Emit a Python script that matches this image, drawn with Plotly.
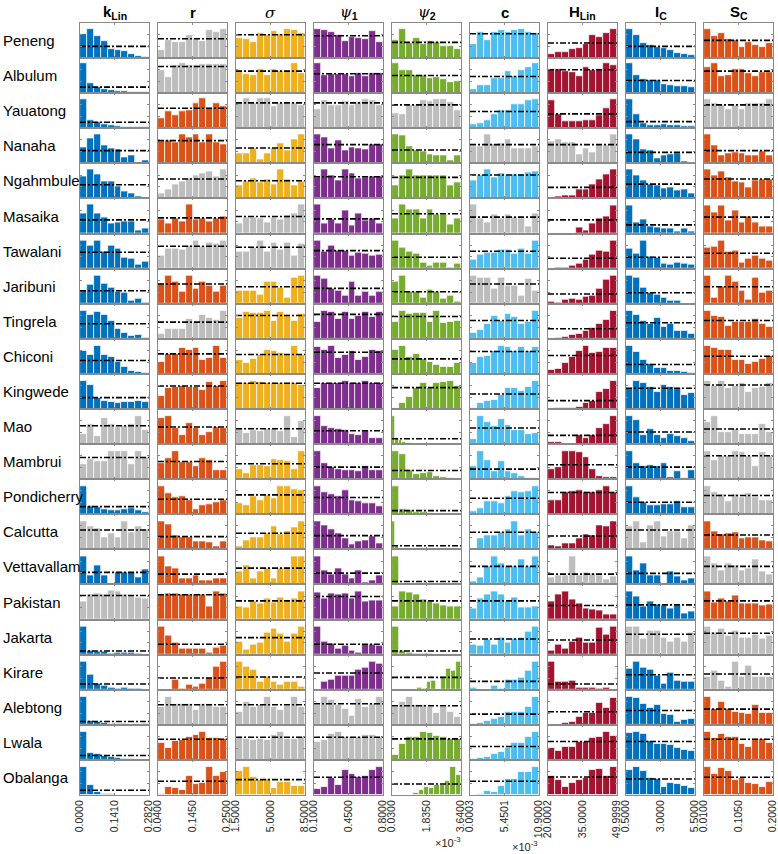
import numpy as np
import plotly.graph_objects as go

# sites (rows) and parameters (columns)
sites = ["Peneng", "Albulum", "Yauatong", "Nanaha", "Ngahmbule", "Masaika", "Tawalani",
         "Jaribuni", "Tingrela", "Chiconi", "Kingwede", "Mao", "Mambrui", "Pondicherry",
         "Calcutta", "Vettavallam", "Pakistan", "Jakarta", "Kirare", "Alebtong", "Lwala",
         "Obalanga"]

headers = ["<b>k<sub>Lin</sub></b>", "<b>r</b>",
           "<span style='font-family:DejaVu Serif'><i>σ</i></span>",
           "<span style='font-family:DejaVu Serif'><i>ψ</i></span><sub><b>1</b></sub>",
           "<span style='font-family:DejaVu Serif'><i>ψ</i></span><sub><b>2</b></sub>",
           "<b>c</b>", "<b>H<sub>Lin</sub></b>", "<b>I<sub>C</sub></b>", "<b>S<sub>C</sub></b>"]

tick_labels = [["0.0000", "0.1410", "0.2820"],
               ["0.0400", "0.1450", "0.2500"],
               ["1.5000", "5.0000", "8.5000"],
               ["0.1000", "0.4500", "0.8000"],
               ["0.0300", "1.8350", "3.6400"],
               ["0.0003", "5.4501", "10.9000"],
               ["20.0002", "35.0000", "49.9999"],
               ["0.5000", "3.0000", "5.5000"],
               ["0.0100", "0.1050", "0.2000"]]

# bar heights (relative, panel top = 105)
k_lin = [[72, 87, 65, 51, 28, 25, 22, 13, 5, 3], [90, 31, 18, 13, 10, 7, 5, 4, 3, 2],
         [88, 25, 17, 12, 8, 6, 4, 3, 2, 2], [48, 75, 88, 53, 45, 41, 18, 23, 3, 9],
         [65, 88, 73, 50, 50, 35, 20, 15, 6, 3], [59, 86, 59, 49, 29, 32, 37, 37, 9, 14],
         [84, 69, 84, 52, 69, 59, 34, 29, 12, 22], [39, 57, 84, 59, 49, 37, 34, 9, 14, 4],
         [85, 73, 80, 73, 55, 30, 17, 10, 12, 3], [68, 58, 85, 57, 50, 35, 22, 10, 5, 2],
         [85, 72, 32, 25, 20, 17, 20, 20, 25, 20], [31, 60, 25, 78, 61, 51, 53, 61, 85, 43],
         [45, 60, 53, 53, 85, 85, 85, 45, 85, 66], [85, 25, 21, 15, 11, 13, 15, 18, 11, 5],
         [83, 70, 63, 36, 48, 36, 83, 50, 70, 60], [84, 27, 56, 27, 0, 37, 37, 37, 21, 44],
         [54, 74, 79, 74, 86, 84, 74, 71, 66, 64], [84, 12, 9, 8, 2, 6, 6, 5, 3, 1],
         [85, 45, 17, 13, 7, 3, 5, 3, 2, 0], [85, 13, 8, 5, 3, 2, 2, 1, 0, 2],
         [85, 22, 18, 12, 8, 5, 2, 2, 1, 1], [84, 31, 8, 4, 2, 1, 0, 1, 0, 0]]

r_vals = [[25, 55, 47, 47, 68, 57, 50, 83, 77, 87], [70, 48, 83, 90, 83, 83, 88, 86, 86, 88],
          [30, 50, 38, 50, 53, 76, 90, 60, 75, 66], [65, 68, 63, 88, 78, 88, 63, 88, 63, 58],
          [16, 26, 43, 50, 60, 70, 76, 80, 66, 88], [42, 31, 46, 37, 86, 41, 46, 37, 44, 52],
          [39, 61, 61, 56, 69, 84, 66, 79, 74, 84], [59, 84, 67, 37, 84, 46, 67, 54, 37, 54],
          [15, 30, 30, 30, 60, 52, 72, 62, 57, 85], [35, 60, 60, 77, 72, 77, 42, 48, 85, 48],
          [40, 64, 67, 69, 67, 67, 57, 82, 69, 84], [78, 85, 48, 28, 63, 48, 28, 35, 51, 48],
          [48, 63, 85, 50, 50, 40, 63, 58, 28, 28], [85, 63, 50, 55, 43, 15, 28, 30, 35, 43],
          [83, 76, 43, 35, 35, 23, 23, 20, 10, 23], [84, 54, 47, 19, 19, 27, 11, 11, 19, 19],
          [74, 79, 79, 74, 76, 74, 76, 39, 84, 79], [84, 57, 37, 19, 19, 19, 19, 7, 21, 27],
          [0, 0, 30, 3, 15, 8, 17, 35, 70, 85], [55, 85, 63, 63, 63, 45, 63, 63, 53, 55],
          [50, 35, 58, 60, 70, 75, 85, 65, 65, 62], [4, 24, 21, 16, 58, 34, 36, 84, 56, 70]]

sigma_vals = [[60, 58, 48, 75, 68, 80, 71, 87, 85, 75], [63, 58, 55, 71, 53, 71, 65, 66, 90, 61],
              [76, 90, 76, 90, 90, 66, 76, 76, 76, 70], [31, 31, 45, 13, 31, 45, 61, 38, 73, 88],
              [40, 50, 60, 48, 58, 43, 88, 58, 40, 50], [31, 49, 49, 44, 34, 49, 41, 54, 59, 86],
              [51, 51, 64, 84, 52, 79, 56, 79, 39, 74], [39, 39, 39, 26, 66, 66, 49, 19, 79, 84],
              [63, 82, 77, 77, 85, 55, 80, 73, 53, 75], [42, 32, 45, 58, 72, 68, 62, 58, 85, 58],
              [77, 77, 84, 82, 77, 77, 77, 77, 77, 72], [48, 33, 43, 38, 45, 45, 38, 85, 21, 68],
              [31, 18, 43, 43, 38, 60, 56, 53, 31, 85], [33, 28, 55, 43, 58, 48, 85, 85, 75, 71],
              [10, 26, 36, 36, 48, 70, 45, 55, 65, 83], [39, 57, 19, 39, 47, 19, 47, 51, 84, 84],
              [39, 36, 54, 49, 62, 51, 67, 54, 64, 84], [39, 14, 29, 36, 67, 77, 64, 39, 64, 84],
              [85, 70, 60, 25, 40, 25, 15, 25, 25, 10], [38, 68, 55, 60, 83, 55, 45, 57, 85, 55],
              [68, 62, 60, 62, 60, 75, 85, 62, 62, 70], [71, 84, 54, 44, 48, 21, 38, 38, 28, 28]]

psi1_vals = [[87, 83, 78, 70, 50, 63, 60, 58, 80, 48], [90, 55, 58, 58, 58, 50, 61, 51, 61, 61],
             [58, 85, 70, 70, 80, 70, 78, 88, 85, 70], [88, 78, 45, 68, 38, 48, 46, 41, 58, 58],
             [63, 88, 68, 53, 88, 76, 60, 63, 66, 66], [86, 29, 41, 29, 69, 24, 61, 39, 44, 31],
             [84, 52, 69, 54, 54, 39, 49, 46, 39, 42], [84, 74, 44, 39, 24, 67, 24, 37, 24, 36],
             [52, 85, 82, 60, 80, 60, 70, 80, 67, 82], [80, 73, 85, 48, 58, 70, 43, 52, 72, 70],
             [64, 79, 79, 77, 84, 79, 79, 84, 77, 77], [85, 53, 48, 45, 43, 31, 28, 38, 18, 18],
             [85, 48, 35, 31, 28, 28, 23, 38, 26, 26], [85, 65, 61, 53, 71, 41, 38, 33, 33, 25],
             [83, 73, 60, 48, 33, 15, 23, 28, 38, 18], [84, 41, 31, 47, 31, 19, 41, 7, 11, 26],
             [82, 62, 79, 74, 79, 62, 84, 54, 56, 56], [84, 39, 34, 19, 26, 11, 7, 29, 29, 26],
             [0, 23, 30, 42, 42, 42, 60, 67, 85, 77], [60, 85, 75, 60, 47, 27, 77, 55, 63, 85],
             [55, 60, 78, 85, 68, 68, 68, 75, 75, 68], [18, 24, 51, 31, 74, 64, 54, 56, 74, 84]]

psi2_vals = [[55, 87, 45, 60, 42, 50, 48, 35, 35, 28], [90, 68, 70, 55, 55, 46, 48, 43, 33, 35],
             [46, 43, 70, 70, 83, 80, 88, 88, 78, 53], [88, 85, 50, 38, 36, 28, 23, 23, 8, 23],
             [40, 68, 88, 70, 70, 70, 70, 70, 40, 48], [46, 86, 72, 72, 46, 72, 57, 57, 26, 46],
             [84, 64, 51, 46, 19, 9, 19, 17, 2, 14], [67, 84, 36, 36, 19, 41, 36, 14, 24, 7],
             [50, 83, 75, 77, 77, 50, 85, 48, 50, 55], [72, 85, 52, 60, 45, 35, 28, 22, 22, 32],
             [0, 19, 37, 62, 77, 64, 79, 82, 84, 70],
             [85, 18, 11, 5, 3, 2, 1, 1, 0, 0, 0, 0, 0, 0, 0, 0, 0, 0, 0, 0],
             [85, 76, 28, 16, 18, 21, 10, 6, 3, 0], [85, 15, 11, 5, 5, 3, 1, 1, 0, 0],
             [83, 10, 4, 2, 1, 0, 0, 0, 0, 0, 0, 0, 0, 0, 0, 0, 0, 0, 0, 0],
             [84, 2, 1, 1, 0, 0, 0, 0, 0, 0], [39, 84, 82, 74, 59, 54, 49, 42, 39, 39],
             [84, 11, 7, 4, 3, 2, 1, 1, 1, 0],
             [0, 0, 0, 0, 0, 7, 3, 23, 27, 0, 40, 63, 57, 85],
             [55, 70, 85, 60, 60, 53, 35, 55, 38, 23], [15, 48, 68, 68, 85, 82, 72, 70, 62, 62],
             [0, 0, 0, 1, 6, 14, 24, 21, 31, 31, 41, 84, 61]]

c_vals = [[43, 78, 55, 78, 83, 78, 83, 86, 78, 75], [13, 25, 25, 45, 46, 65, 51, 70, 78, 90],
          [13, 16, 23, 43, 53, 53, 71, 71, 85, 88], [50, 50, 88, 58, 61, 71, 45, 45, 45, 50],
          [53, 70, 88, 63, 76, 68, 73, 73, 78, 80], [86, 44, 32, 57, 44, 57, 47, 44, 22, 61],
          [26, 42, 49, 49, 56, 56, 46, 59, 46, 84], [84, 77, 77, 46, 77, 54, 54, 24, 74, 39],
          [17, 27, 45, 70, 55, 75, 67, 45, 50, 85], [32, 50, 55, 70, 85, 82, 70, 82, 70, 82],
          [4, 17, 25, 27, 42, 62, 62, 54, 65, 84], [15, 85, 65, 55, 75, 58, 43, 43, 31, 33],
          [38, 85, 56, 23, 53, 23, 18, 8, 3, 2], [8, 18, 40, 40, 33, 53, 70, 65, 70, 85],
          [0, 33, 43, 43, 50, 60, 83, 43, 60, 50], [9, 21, 54, 84, 64, 54, 54, 74, 54, 84],
          [34, 64, 74, 84, 74, 54, 66, 36, 36, 39], [31, 27, 44, 31, 51, 37, 49, 51, 69, 84],
          [5, 1, 1, 13, 3, 30, 30, 35, 57, 85], [3, 7, 13, 17, 25, 38, 38, 40, 53, 85],
          [2, 5, 8, 18, 25, 35, 52, 52, 68, 85], [1, 4, 11, 8, 26, 48, 48, 68, 68, 84]]

hlin_vals = [[12, 17, 19, 28, 30, 43, 68, 63, 75, 87], [71, 71, 65, 63, 50, 78, 68, 71, 90, 83],
             [83, 43, 20, 20, 20, 23, 23, 40, 60, 88], [65, 71, 63, 63, 28, 46, 33, 53, 53, 88],
             [3, 6, 8, 10, 26, 26, 43, 58, 73, 88], [0, 0, 0, 0, 18, 10, 30, 44, 52, 84],
             [0, 2, 4, 10, 16, 26, 42, 54, 52, 84], [7, 4, 11, 14, 11, 22, 24, 46, 71, 84],
             [1, 3, 6, 11, 14, 24, 32, 46, 57, 85], [12, 15, 32, 50, 70, 85, 62, 65, 78, 78],
             [0, 2, 2, 4, 7, 17, 25, 52, 60, 84], [5, 5, 1, 1, 28, 18, 28, 48, 61, 85],
             [30, 36, 85, 85, 80, 66, 30, 10, 6, 6], [43, 43, 65, 70, 73, 65, 65, 73, 85, 65],
             [13, 10, 18, 18, 33, 45, 43, 73, 68, 83], [21, 27, 27, 84, 27, 37, 34, 27, 14, 24],
             [54, 74, 84, 59, 49, 34, 31, 26, 14, 14], [11, 29, 17, 39, 51, 37, 37, 81, 61, 84],
             [85, 23, 23, 27, 5, 7, 5, 3, 5, 0], [0, 0, 5, 10, 25, 35, 37, 67, 50, 80],
             [35, 28, 40, 38, 55, 55, 65, 68, 85, 72], [56, 44, 24, 36, 46, 51, 74, 78, 56, 84]]

ic_vals = [[87, 68, 45, 40, 32, 30, 23, 15, 12, 8], [90, 55, 43, 38, 38, 28, 25, 21, 21, 18],
           [88, 43, 16, 8, 10, 13, 10, 10, 6, 6], [88, 73, 41, 38, 15, 23, 28, 31, 5, 3],
           [88, 68, 53, 43, 40, 30, 33, 23, 26, 16], [84, 34, 41, 21, 19, 16, 16, 7, 14, 7],
           [59, 46, 84, 36, 32, 16, 12, 19, 16, 12], [84, 79, 49, 34, 26, 17, 9, 9, 0, 0],
           [85, 73, 55, 45, 63, 37, 45, 23, 23, 15], [85, 65, 42, 30, 17, 17, 10, 10, 5, 2],
           [62, 84, 77, 67, 52, 72, 67, 62, 42, 47], [85, 73, 28, 45, 28, 18, 31, 23, 18, 8],
           [85, 48, 40, 43, 40, 48, 6, 23, 3, 26], [85, 51, 35, 28, 28, 31, 31, 38, 21, 21],
           [68, 83, 20, 73, 83, 38, 53, 53, 33, 73], [84, 41, 64, 27, 27, 4, 39, 24, 11, 19],
           [84, 69, 39, 54, 44, 42, 34, 41, 19, 24], [84, 84, 47, 71, 71, 51, 39, 51, 39, 67],
           [63, 85, 67, 60, 43, 17, 50, 27, 23, 23], [85, 80, 63, 50, 60, 33, 30, 10, 15, 17],
           [80, 85, 78, 58, 48, 48, 45, 35, 30, 28], [76, 84, 71, 51, 48, 24, 36, 34, 26, 21]]

sc_vals = [[87, 67, 75, 57, 55, 33, 48, 40, 33, 45], [78, 90, 51, 55, 71, 71, 61, 51, 63, 63],
           [88, 75, 68, 58, 68, 58, 75, 75, 75, 88], [88, 53, 25, 31, 33, 31, 25, 23, 35, 23],
           [88, 68, 80, 63, 50, 48, 33, 53, 58, 58], [84, 62, 84, 39, 69, 34, 51, 34, 22, 22],
           [64, 67, 84, 51, 54, 19, 29, 39, 29, 24], [84, 19, 51, 84, 66, 39, 11, 79, 32, 39],
           [85, 70, 67, 40, 52, 50, 52, 60, 45, 35], [85, 78, 72, 72, 43, 43, 30, 35, 45, 53],
           [84, 69, 84, 64, 69, 77, 52, 64, 65, 79], [65, 85, 36, 36, 45, 31, 31, 31, 61, 35],
           [85, 58, 70, 70, 85, 80, 70, 40, 80, 70], [85, 66, 61, 38, 61, 50, 63, 50, 41, 43],
           [83, 55, 45, 48, 50, 33, 35, 35, 28, 25], [84, 62, 42, 64, 57, 41, 49, 74, 39, 31],
           [84, 52, 62, 54, 72, 49, 49, 49, 42, 44], [84, 67, 77, 57, 71, 51, 51, 61, 49, 57],
           [40, 57, 27, 10, 85, 40, 73, 40, 40, 40], [85, 47, 70, 47, 40, 35, 33, 60, 37, 37],
           [85, 65, 78, 68, 68, 48, 38, 62, 62, 50], [84, 64, 81, 71, 46, 51, 36, 34, 24, 38]]

# prior (uniform) reference level for each panel
prior_k_lin = [35, 18, 18, 38, 41, 41, 49, 39, 45, 40, 34, 55, 65, 23, 58, 36, 72, 11, 17, 10, 13, 14]
prior_r = [58, 80, 60, 68, 58, 47, 67, 59, 50, 60, 69, 51, 53, 45, 38, 31, 74, 31, 35, 60, 62, 41]
prior_sigma = [70, 66, 76, 46, 53, 51, 64, 51, 70, 58, 77, 46, 46, 58, 48, 49, 56, 51, 38, 60, 68, 46]
prior_psi1 = [67, 58, 76, 56, 65, 44, 54, 46, 73, 65, 77, 40, 36, 50, 41, 34, 69, 31, 50, 63, 68, 53]
prior_psi2 = [47, 53, 70, 40, 63, 59, 34, 36, 67, 45, 64, 16, 26, 11, 11, 9, 56, 11, 37, 57, 63, 33]
prior_c = [73, 50, 50, 56, 70, 49, 52, 59, 55, 67, 45, 48, 30, 48, 51, 54, 56, 47, 25, 32, 40, 41]
prior_hlin = [45, 70, 43, 56, 33, 41, 31, 29, 30, 55, 25, 26, 43, 65, 40, 31, 42, 44, 17, 39, 55, 54]
prior_ic = [35, 38, 20, 33, 43, 26, 34, 33, 48, 28, 62, 36, 36, 36, 58, 33, 44, 61, 45, 43, 55, 48]
prior_sc = [53, 66, 70, 38, 58, 49, 46, 51, 55, 53, 72, 45, 70, 56, 43, 54, 56, 64, 47, 47, 62, 53]

# 1 = parameter not identifiable at that site (drawn grey)
grey_mask = ["010000000", "010000000", "001110001", "000001100", "010000000", "001001000",
             "011000000", "000001000", "010000000", "000000000", "000000001", "101000001",
             "100000001", "000000001", "100000010", "000000101", "100000000", "000000011",
             "000000001", "011110000", "001100000", "000000000"]

col_colors = ["#0072BD", "#D95319", "#EDB120", "#7E2F8E", "#77AC30",
              "#4DBEEE", "#A2142F", "#0072BD", "#D95319"]
GREY = "#BDBDBD"

columns = [k_lin, r_vals, sigma_vals, psi1_vals, psi2_vals, c_vals, hlin_vals, ic_vals, sc_vals]
priors = [prior_k_lin, prior_r, prior_sigma, prior_psi1, prior_psi2, prior_c,
          prior_hlin, prior_ic, prior_sc]

W, H = 778, 854
ML, MR, MT, MB = 80, 5, 23, 59
pw, ph = W - ML - MR, H - MT - MB
ncol, nrow = 9, len(sites)
cw, cstep = 69, 78
FONT = "Liberation Sans, Arial, sans-serif"

fig = go.Figure()
layout = {}
traces = []
for r in range(nrow):
    for c in range(ncol):
        idx = r * ncol + c + 1
        sx = "" if idx == 1 else str(idx)
        lo, mid, hi = [float(t) for t in tick_labels[c]]
        heights = columns[c][r]
        edges = np.linspace(lo, hi, len(heights) + 1)
        centers = (edges[:-1] + edges[1:]) / 2
        color = GREY if grey_mask[r][c] == "1" else col_colors[c]
        traces.append(go.Bar(x=centers, y=heights, width=edges[1] - edges[0],
                             marker=dict(color=color, line=dict(color="white", width=0.7)),
                             xaxis="x" + sx, yaxis="y" + sx, showlegend=False,
                             hoverinfo="skip"))
        p = priors[c][r]
        traces.append(go.Scatter(x=[lo, hi], y=[p, p], mode="lines",
                                 line=dict(color="black", width=1.6, dash="6px,2px,2px,2px"),
                                 xaxis="x" + sx, yaxis="y" + sx, showlegend=False,
                                 hoverinfo="skip"))
        bottom = r == nrow - 1
        layout["xaxis" + sx] = dict(
            domain=[c * cstep / pw, (c * cstep + cw) / pw], anchor="y" + sx,
            range=[lo, hi], showgrid=False, zeroline=False, showline=True,
            linecolor="#8a8a8a", linewidth=1, mirror="ticks", ticks="inside",
            ticklen=2, tickcolor="#8a8a8a", tickvals=[lo, mid, hi],
            ticktext=tick_labels[c], showticklabels=bottom, tickangle=-90,
            automargin=False, ticklabeloverflow="allow",
            tickfont=dict(size=10.5, color="#262626", family=FONT))
        layout["yaxis" + sx] = dict(
            domain=[1 - (r + 1) / nrow, 1 - r / nrow], anchor="x" + sx,
            range=[0, 105], showgrid=False, zeroline=False, showline=True,
            linecolor="#8a8a8a", linewidth=1, mirror="ticks", ticks="inside",
            ticklen=2, tickcolor="#8a8a8a", tickvals=[0, 35, 70],
            showticklabels=False, automargin=False)

fig.add_traces(traces)

annotations = []
for r, name in enumerate(sites):
    annotations.append(dict(text=name, xref="paper", yref="paper",
                            x=(1 - ML) / pw, y=1 - (r + 0.5) / nrow,
                            xanchor="left", yanchor="middle", showarrow=False,
                            font=dict(size=15, color="black", family=FONT)))
for c, h in enumerate(headers):
    annotations.append(dict(text=h, xref="paper", yref="paper",
                            x=(c * cstep + cw / 2) / pw, y=1 + (MT - 13) / ph,
                            xanchor="center", yanchor="middle", showarrow=False,
                            font=dict(size=15, color="black", family=FONT)))
# exponent labels under the two scaled columns
for xpix, ypix in [(448, 842), (525, 846)]:
    annotations.append(dict(text="×10<sup>-3</sup>", xref="paper", yref="paper",
                            x=(xpix - ML) / pw, y=(H - MB - ypix) / ph,
                            xanchor="center", yanchor="middle", showarrow=False,
                            font=dict(size=11, color="#262626", family=FONT)))

fig.update_layout(width=W, height=H, margin=dict(l=ML, r=MR, t=MT, b=MB),
                  paper_bgcolor="white", plot_bgcolor="white", bargap=0,
                  annotations=annotations, **layout)

# page body has a default 8px margin; remove it so the figure sits at the corner
fig.write_html("out.html", config={"displayModeBar": False},
               post_script="document.body.style.margin='0px';")
